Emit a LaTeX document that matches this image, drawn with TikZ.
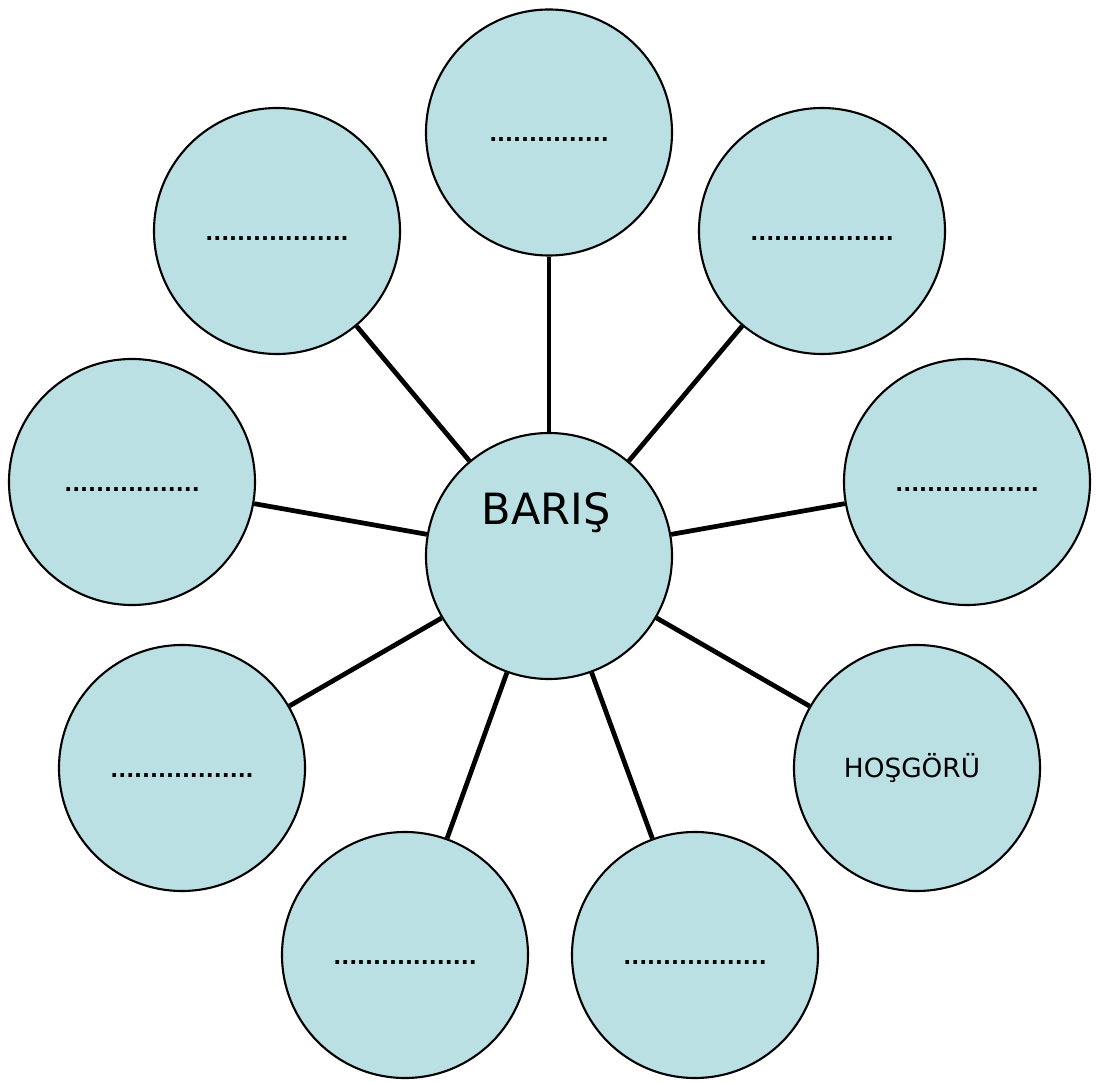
\documentclass[tikz,border=0pt]{standalone}
\usepackage{fontspec}
\setmainfont{DejaVu Sans}
\usepackage{tikz}
\usetikzlibrary{calc}
\usetikzlibrary{positioning}
\definecolor{petalblue}{RGB}{187,224,228}
\tikzstyle{petal} = [draw, circle, fill=petalblue, line width=1.2pt, minimum size=4.92cm, inner sep=0pt]
\tikzstyle{spoke} = [line width=2.7pt]
\tikzstyle{blank} = [anchor=base, inner sep=0pt, font=\bfseries\fontsize{11.93}{14}\selectfont]

\begin{document}
\begin{tikzpicture}
    \useasboundingbox (-10.98,-10.5) rectangle (10.96,11.12);

    \node[petal] (baris) at (0,0) {};
    \node[petal] (top) at ($(baris)+(0,8.47)$) {};
    \node[petal] (topleft) at ($(baris)+(-5.44,6.5)$) {};
    \node[petal] (topright) at ($(baris)+(5.46,6.5)$) {};
    \node[petal] (left) at ($(baris)+(-8.34,1.48)$) {};
    \node[petal] (right) at ($(baris)+(8.36,1.48)$) {};
    \node[petal] (lowleft) at ($(baris)+(-7.34,-4.24)$) {};
    \node[petal] (hosgoru) at ($(baris)+(7.36,-4.24)$) {};
    \node[petal] (botleft) at ($(baris)+(-2.88,-7.98)$) {};
    \node[petal] (botright) at ($(baris)+(2.92,-7.98)$) {};

    \draw[spoke] (baris) -- (top);
    \draw[spoke] (baris) -- (topleft);
    \draw[spoke] (baris) -- (topright);
    \draw[spoke] (baris) -- (left);
    \draw[spoke] (baris) -- (right);
    \draw[spoke] (baris) -- (lowleft);
    \draw[spoke] (baris) -- (hosgoru);
    \draw[spoke] (baris) -- (botleft);
    \draw[spoke] (baris) -- (botright);

    \node[anchor=base, inner sep=0pt, font=\fontsize{24.5}{29}\selectfont] (baris_text) at ($(baris)+(-0.06,0.62)$) {BARIŞ};
    \node[anchor=base, inner sep=0pt, font=\fontsize{15}{18}\selectfont] (hosgoru_text) at ($(hosgoru)+(-0.1,-0.18)$) {HOŞGÖRÜ};

    \node[blank] (top_dots) at ($(top)+(0,-0.19)$) {...............};
    \node[blank] (topleft_dots) at ($(topleft)+(0,-0.19)$) {..................};
    \node[blank] (topright_dots) at ($(topright)+(0,-0.19)$) {..................};
    \node[blank] (left_dots) at ($(left)+(0,-0.19)$) {.................};
    \node[blank] (right_dots) at ($(right)+(0,-0.19)$) {..................};
    \node[blank] (lowleft_dots) at ($(lowleft)+(0,-0.19)$) {..................};
    \node[blank] (botleft_dots) at ($(botleft)+(0,-0.19)$) {..................};
    \node[blank] (botright_dots) at ($(botright)+(0,-0.19)$) {..................};
\end{tikzpicture}
\end{document}
